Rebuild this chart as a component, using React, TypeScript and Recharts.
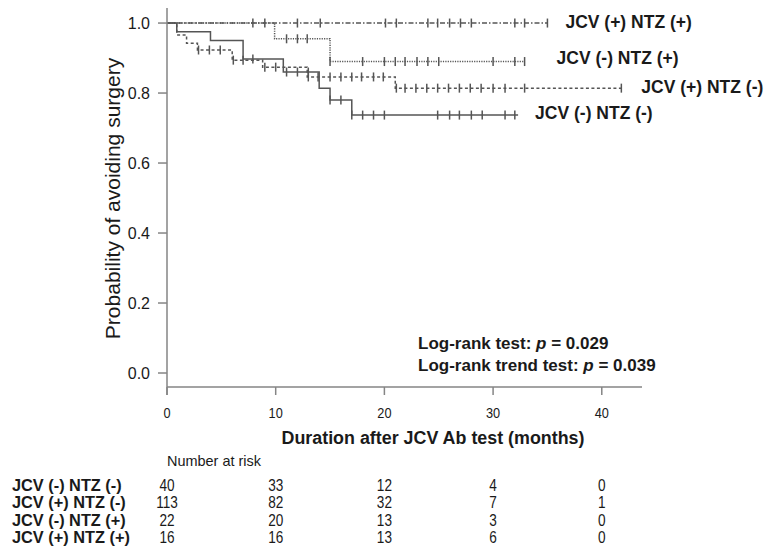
import { ComposedChart, Line, Scatter, XAxis, YAxis, ReferenceLine } from "recharts";

const GROUPS = ["JCV (-) NTZ (-)", "JCV (+) NTZ (-)", "JCV (-) NTZ (+)", "JCV (+) NTZ (+)"];

// Kaplan-Meier steps: time of each step (months) and survival after it; last entry = end of follow-up
const mmTimes = [0, 0.9, 4.0, 7.0, 10.7, 14.0, 15.0, 17.0, 32.3];
const mmSurv = [1, 0.975, 0.95, 0.897, 0.86, 0.814, 0.78, 0.737, 0.737];
const mmCensor = [7.9, 11.0, 12.0, 13.0, 15.0, 16.0, 17.0, 18.0, 19.0, 20.0, 24.9, 26.0, 26.9, 28.0, 29.0, 31.1, 32.0];

const pmTimes = [0, 0.9, 1.8, 2.8, 6.0, 8.8, 12.9, 21.0, 41.8];
const pmSurv = [1, 0.966, 0.942, 0.923, 0.894, 0.874, 0.846, 0.814, 0.814];
const pmCensor = [2.9, 3.9, 4.9, 6.1, 7.0, 9.0, 10.0, 13.0, 13.9, 15.0, 16.0, 17.0, 17.9, 19.0, 19.9, 21.1, 21.9, 22.9, 23.9, 24.9, 25.9, 26.9, 27.9, 28.9, 30.0, 31.1, 32.9, 41.8];

const mpTimes = [0, 9.9, 15.0, 32.9];
const mpSurv = [1, 0.955, 0.89, 0.89];
const mpCensor = [11.0, 12.0, 12.9, 15.0, 18.0, 20.0, 21.0, 21.9, 23.0, 24.0, 25.0, 30.0, 32.0, 32.9];

const ppTimes = [0, 35.0];
const ppSurv = [1, 1];
const ppCensor = [7.9, 9.0, 12.0, 14.1, 20.1, 21.1, 24.0, 24.9, 26.0, 27.0, 28.0, 32.0, 32.9, 35.0];

const xTicks = [0, 10, 20, 30, 40];
const yTicks = [0, 0.2, 0.4, 0.6, 0.8, 1.0];

// number at risk, one value per x tick
const riskMM = [40, 33, 12, 4, 0];
const riskPM = [113, 82, 32, 7, 1];
const riskMP = [22, 20, 13, 3, 0];
const riskPP = [16, 16, 13, 6, 0];

const INK = "#1a1a1a";
const LINE = "#555555";
const AXIS = "#858585";
const FONT = "'Liberation Sans', Arial, Helvetica, sans-serif";

const steps = (times: number[], surv: number[]) => times.map((t, i) => ({ t, s: surv[i] }));
const marks = (times: number[], surv: number[], cens: number[]) =>
  cens.map((c) => {
    let s = surv[0];
    times.forEach((t, i) => {
      if (t <= c + 1e-9) s = surv[i];
    });
    return { t: c, s };
  });

const series = [
  { name: GROUPS[0], times: mmTimes, surv: mmSurv, cens: mmCensor, dash: undefined, dx: 17, dy: -2 },
  { name: GROUPS[1], times: pmTimes, surv: pmSurv, cens: pmCensor, dash: "3 2.5", dx: 20, dy: -1 },
  { name: GROUPS[2], times: mpTimes, surv: mpSurv, cens: mpCensor, dash: "1.2 1.2", dx: 32, dy: -4 },
  { name: GROUPS[3], times: ppTimes, surv: ppSurv, cens: ppCensor, dash: "5 2 1.5 2", dx: 18, dy: -1 },
];

const risks = [riskMM, riskPM, riskMP, riskPP];

const CensorMark = (p: any) => (
  <line x1={p.cx} x2={p.cx} y1={p.cy - 4.5} y2={p.cy + 4.5} stroke={LINE} strokeWidth={1.5} />
);

export default function App() {
  return (
    <div style={{ position: "absolute", left: 0, top: 0, width: 768, height: 549, background: "#fff", fontFamily: FONT }}>
      <ComposedChart width={768} height={549} margin={{ top: 8, right: 126, bottom: 5, left: 107 }}>
        <XAxis
          type="number"
          dataKey="t"
          domain={[0, 43.7]}
          ticks={xTicks}
          interval={0}
          height={63}
          tickSize={8}
          tickMargin={12}
          axisLine={{ stroke: AXIS, strokeWidth: 1.5 }}
          tickLine={{ stroke: AXIS, strokeWidth: 1.5 }}
          tick={(p: any) => (
            <text transform={`translate(${p.x},${p.y}) scale(0.85,1)`} dy="0.71em" textAnchor="middle" fontSize={15} fill={INK}>
              {p.payload.value}
            </text>
          )}
          label={(p: any) => (
            <text x={p.viewBox.x + 266} y={p.viewBox.y + 51} dy="0.35em" textAnchor="middle" fontSize={18} fontWeight="bold" fill={INK} textLength={303} lengthAdjust="spacingAndGlyphs">
              Duration after JCV Ab test (months)
            </text>
          )}
        />
        <XAxis
          xAxisId="hdr"
          type="number"
          dataKey="t"
          domain={[0, 43.7]}
          ticks={xTicks}
          height={24}
          axisLine={false}
          tickLine={false}
          tick={false}
          label={(p: any) => (
            <text x={p.viewBox.x} y={p.viewBox.y + 11} dy="0.35em" fontSize={14.5} fill={INK} textLength={94} lengthAdjust="spacingAndGlyphs">
              Number at risk
            </text>
          )}
        />
        {risks.map((row, r) => (
          <XAxis
            key={r}
            xAxisId={`risk${r}`}
            type="number"
            dataKey="t"
            domain={[0, 43.7]}
            ticks={xTicks}
            interval={0}
            height={17.5}
            axisLine={false}
            tickLine={false}
            tickSize={0}
            tickMargin={11}
            tick={(p: any) => (
              <text transform={`translate(${p.x},${p.y}) scale(0.85,1)`} dy="0.35em" textAnchor="middle" fontSize={16} fill={INK}>
                {row[xTicks.indexOf(p.payload.value)]}
              </text>
            )}
            label={(p: any) => (
              <text transform={`translate(12,${p.viewBox.y + 11}) scale(1.02,1)`} dy="0.35em" fontSize={16} fontWeight="bold" fill={INK}>
                {GROUPS[r]}
              </text>
            )}
          />
        ))}
        <YAxis
          type="number"
          dataKey="s"
          domain={[-0.04, 1.043]}
          ticks={yTicks}
          interval={0}
          width={60}
          tickSize={9}
          tickMargin={8}
          tickFormatter={(v: number) => v.toFixed(1)}
          axisLine={{ stroke: AXIS, strokeWidth: 1.5 }}
          tickLine={{ stroke: AXIS, strokeWidth: 1.5 }}
          tick={{ fontSize: 16, fill: INK }}
          label={(p: any) => (
            <text
              transform={`translate(${p.viewBox.x + 6},${p.viewBox.y + p.viewBox.height / 2 + 1}) rotate(-90)`}
              dy="0.35em"
              textAnchor="middle"
              fontSize={21}
              fill={INK}
            >
              Probability of avoiding surgery
            </text>
          )}
        />
        <ReferenceLine
          segment={[
            { x: 0, y: -0.063 },
            { x: 0, y: -0.04 },
          ]}
          stroke={AXIS}
          strokeWidth={1.5}
          ifOverflow="visible"
        />
        {/* invisible points so each at-risk axis gets its own scale */}
        {risks.map((row, r) => (
          <Scatter
            key={`r-${r}`}
            xAxisId={`risk${r}`}
            data={xTicks.map((t, i) => ({ t, s: 0, n: row[i] }))}
            shape={() => <g />}
            isAnimationActive={false}
          />
        ))}
        {series.map((g) => (
          <Line
            key={g.name}
            data={steps(g.times, g.surv)}
            dataKey="s"
            type="stepAfter"
            stroke={LINE}
            strokeWidth={1.5}
            strokeDasharray={g.dash}
            dot={false}
            activeDot={false}
            isAnimationActive={false}
          />
        ))}
        {series.map((g) => (
          <Scatter key={`c-${g.name}`} data={marks(g.times, g.surv, g.cens)} shape={CensorMark} isAnimationActive={false} />
        ))}
        {series.map((g) => (
          <Scatter
            key={`l-${g.name}`}
            data={[{ t: g.times[g.times.length - 1], s: g.surv[g.surv.length - 1] }]}
            isAnimationActive={false}
            shape={(p: any) => (
              <text x={p.cx + g.dx} y={p.cy + g.dy} dy="0.35em" fontSize={17.5} fontWeight="bold" fill={INK}>
                {g.name}
              </text>
            )}
          />
        ))}
      </ComposedChart>
      <svg width={768} height={549} style={{ position: "absolute", left: 0, top: 0, pointerEvents: "none" }}>
        <text x={418} y={343} dy="0.35em" fontSize={17} fontWeight="bold" fill={INK}>
          Log-rank test: <tspan fontStyle="italic">p</tspan> = 0.029
        </text>
        <text x={418} y={365} dy="0.35em" fontSize={17} fontWeight="bold" fill={INK}>
          Log-rank trend test: <tspan fontStyle="italic">p</tspan> = 0.039
        </text>
      </svg>
    </div>
  );
}
